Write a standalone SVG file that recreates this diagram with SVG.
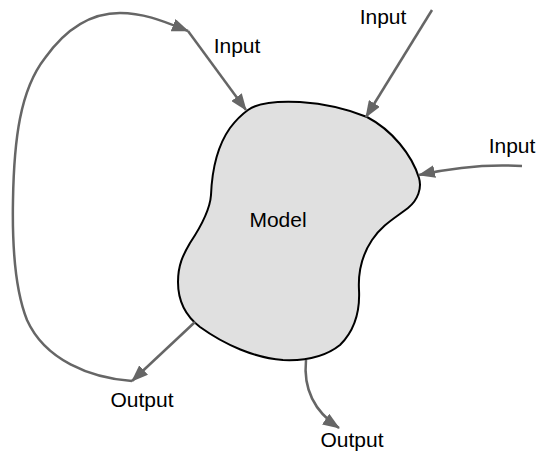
<svg xmlns="http://www.w3.org/2000/svg" width="541" height="455" viewBox="0 0 541 455">
<style>
.conn{fill:none;stroke:#666;stroke-width:2.5}
.lbl{font-family:"Liberation Sans",Arial,Helvetica,sans-serif;font-size:21px;fill:#000;text-anchor:middle}
.blob{fill:#e0e0e0;stroke:#000;stroke-width:2}
</style>
<defs>
<marker id="ah" markerUnits="userSpaceOnUse" markerWidth="17" markerHeight="13" refX="16" refY="6.5" orient="auto">
<path d="M0,0 L17,6.5 L0,13 z" fill="#666"/>
</marker>
</defs>
<g id="model">
<path class="blob" d="M248,110 C259,102 280,101 300,102 C330,104 350,110 367,117 C392,130 412,155 419,178 C422,188 418,200 408,208 C395,218 382,225 372,240 C362,255 358,272 359,290 C360,310 355,330 340,345 C325,357 305,361 283,360 C255,358 225,345 200,327 C183,314 178,298 178,282 C178,265 183,255 190,243 C200,228 210,210 211,195 C212,170 218,145 230,128 C236,120 241,115 248,110 Z"/>
<text class="lbl" x="278" y="227">Model</text>
</g>
<g id="connectors">
<path class="conn" d="M432,10 L366,117" marker-end="url(#ah)"/>
<path class="conn" d="M522,166 C490,164 455,167 419,175" marker-end="url(#ah)"/>
<path class="conn" d="M195,322 L132,381" marker-end="url(#ah)"/>
<path class="conn" d="M306,360 C303,390 315,412 339,428" marker-end="url(#ah)"/>
<path class="conn" d="M132,381 C90,378 45,360 27,320 C15,290 12,250 13,200 C14,140 20,90 45,58 C65,30 90,13 120,13 C145,13 165,22 188,31" marker-end="url(#ah)"/>
<path class="conn" d="M188,31 L246,110" marker-end="url(#ah)"/>
</g>
<g id="labels">
<text class="lbl" x="237" y="53">Input</text>
<text class="lbl" x="383" y="24">Input</text>
<text class="lbl" x="512" y="153">Input</text>
<text class="lbl" x="142" y="407">Output</text>
<text class="lbl" x="352" y="447">Output</text>
</g>
</svg>
